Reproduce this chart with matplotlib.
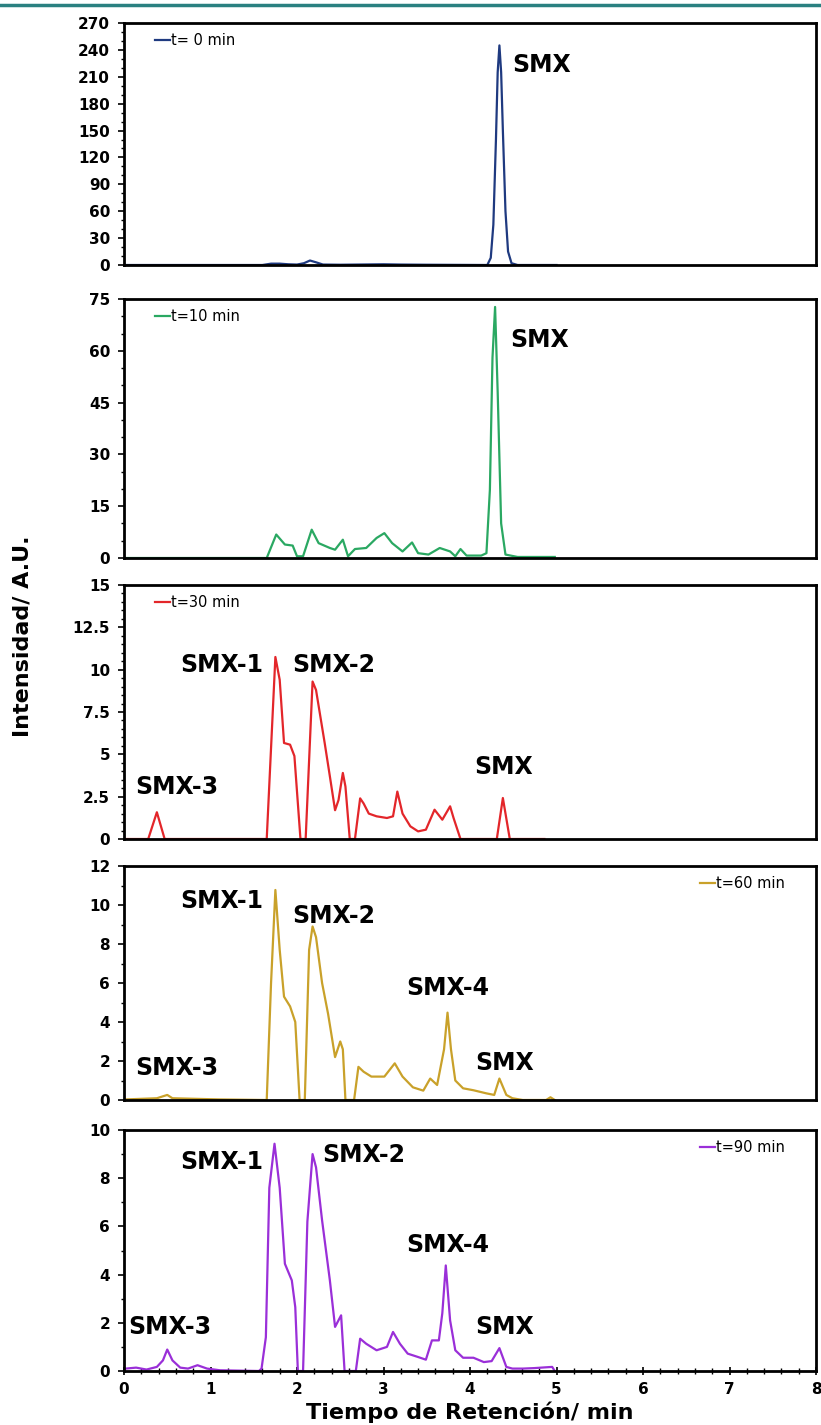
import matplotlib
matplotlib.use("Agg")
import matplotlib.pyplot as plt
from matplotlib.lines import Line2D
from matplotlib.ticker import MultipleLocator, FuncFormatter

t0_x = [0, 1.6, 1.7, 1.8, 1.9, 2.0, 2.08, 2.15, 2.22, 2.3, 2.5, 3.0, 3.2, 3.5, 4.2, 4.24, 4.27,
        4.30, 4.32, 4.34, 4.36, 4.38, 4.41, 4.44, 4.48, 4.55, 5.0]
t0_y = [0, 0, 1.5, 1.5, 0.8, 0.5, 2, 5, 3, 0.5, 0.3, 0.8, 0.5, 0.3, 0, 8, 45,
        140, 215, 245, 215, 150, 60, 15, 2, 0, 0]

t10_x = [0, 1.65, 1.76, 1.86, 1.95, 2.0, 2.07, 2.17, 2.25, 2.38, 2.44, 2.53, 2.59, 2.67, 2.8,
         2.92, 3.01, 3.1, 3.22, 3.33, 3.4, 3.52, 3.65, 3.77, 3.83, 3.89, 3.96, 4.13, 4.19,
         4.23, 4.26, 4.29, 4.32, 4.36, 4.41, 4.55, 4.98]
t10_y = [0, 0, 6.8, 3.9, 3.6, 0.5, 0.5, 8.2, 4.3, 2.9, 2.4, 5.3, 0.5, 2.6, 2.9,
         5.8, 7.2, 4.3, 1.9, 4.5, 1.4, 1.0, 2.9, 1.9, 0.5, 2.6, 0.7, 0.7, 1.4,
         19.8, 58, 72.7, 48, 10, 1.0, 0.3, 0.3]

t30_x = [0, 0.28, 0.38, 0.47, 1.65, 1.75, 1.80, 1.85, 1.92, 1.97, 2.04, 2.10, 2.18, 2.22,
         2.32, 2.38, 2.44, 2.48, 2.53, 2.56, 2.61, 2.67, 2.73, 2.77, 2.83, 2.92, 3.04, 3.11,
         3.16, 3.22, 3.31, 3.40, 3.49, 3.59, 3.68, 3.77, 3.81, 3.89, 4.31, 4.38, 4.46, 4.86]
t30_y = [0, 0, 1.58, 0, 0, 10.75, 9.4, 5.67, 5.57, 4.9, 0, 0, 9.3, 8.8,
         5.67, 3.7, 1.7, 2.3, 3.9, 3.1, 0, 0, 2.4, 2.1, 1.5, 1.34, 1.24, 1.34,
         2.8, 1.5, 0.75, 0.45, 0.55, 1.73, 1.14, 1.93, 1.24, 0, 0, 2.42, 0, 0]

t60_x = [0.02, 0.38, 0.5, 0.56, 1.1, 1.62, 1.65, 1.70, 1.75, 1.80, 1.85, 1.92, 1.98, 2.03,
         2.09, 2.14, 2.18, 2.22, 2.29, 2.36, 2.44, 2.50, 2.53, 2.56, 2.66, 2.71, 2.77, 2.86,
         3.01, 3.13, 3.22, 3.34, 3.46, 3.54, 3.62, 3.70, 3.74, 3.78, 3.83, 3.92, 4.04, 4.19,
         4.28, 4.34, 4.42, 4.49, 4.61, 4.88, 4.93, 4.98]
t60_y = [0.03, 0.09, 0.26, 0.09, 0.03, 0, 0, 6.0, 10.77, 7.7, 5.3, 4.8, 4.0, 0,
         0, 7.7, 8.9, 8.35, 6.0, 4.4, 2.2, 3.0, 2.6, 0, 0, 1.7, 1.45, 1.2,
         1.2, 1.88, 1.2, 0.65, 0.48, 1.1, 0.77, 2.6, 4.48, 2.6, 1.0, 0.6, 0.5, 0.34,
         0.26, 1.1, 0.26, 0.09, 0, 0, 0.14, 0]

t90_x = [0.02, 0.14, 0.26, 0.38, 0.45, 0.50, 0.56, 0.65, 0.74, 0.85, 0.96, 1.11, 1.56, 1.59,
         1.64, 1.68, 1.74, 1.80, 1.86, 1.94, 1.98, 2.01, 2.07, 2.12, 2.18, 2.22, 2.29, 2.38,
         2.44, 2.51, 2.55, 2.68, 2.73, 2.80, 2.92, 3.04, 3.11, 3.19, 3.28, 3.40, 3.49, 3.56,
         3.64, 3.68, 3.72, 3.77, 3.83, 3.92, 4.04, 4.16, 4.25, 4.34, 4.42, 4.49, 4.61, 4.74,
         4.95, 4.98]
t90_y = [0.1, 0.14, 0.06, 0.17, 0.44, 0.89, 0.44, 0.14, 0.1, 0.24, 0.1, 0.03, 0, 0.1,
         1.4, 7.6, 9.43, 7.6, 4.45, 3.76, 2.65, 0, 0, 6.2, 9.0, 8.45, 6.25, 3.76,
         1.83, 2.31, 0, 0, 1.34, 1.13, 0.86, 1.0, 1.62, 1.13, 0.72, 0.58, 0.47, 1.27,
         1.27, 2.4, 4.38, 2.1, 0.86, 0.55, 0.55, 0.37, 0.41, 0.95, 0.17, 0.1, 0.1, 0.12,
         0.17, 0]

series = [(t0_x, t0_y), (t10_x, t10_y), (t30_x, t30_y), (t60_x, t60_y), (t90_x, t90_y)]
etiquetas = ["t= 0 min", "t=10 min", "t=30 min", "t=60 min", "t=90 min"]
colores = ["#1f3a80", "#2aa862", "#e3262a", "#c9a12a", "#9a2fd8"]
ymax = [270, 75, 15, 12, 10]
ypaso = [30, 15, 2.5, 2, 2]
ymenor = [10, 5, 0.5, 1, 1]

# anotaciones de picos: (texto, x, y)
picos = [
    [("SMX", 4.49, 223)],
    [("SMX", 4.47, 63)],
    [("SMX-1", 0.65, 10.3), ("SMX-2", 1.94, 10.3), ("SMX-3", 0.13, 3.1), ("SMX", 4.05, 4.25)],
    [("SMX-1", 0.65, 10.2), ("SMX-2", 1.94, 9.45), ("SMX-4", 3.26, 5.75), ("SMX-3", 0.13, 1.65),
     ("SMX", 4.06, 1.9)],
    [("SMX-1", 0.65, 8.67), ("SMX-2", 2.29, 8.96), ("SMX-4", 3.26, 5.23), ("SMX-3", 0.05, 1.83),
     ("SMX", 4.06, 1.83)],
]

# posiciones de los paneles en pixeles (arriba, abajo)
paneles = [(23, 265), (299, 558), (585, 839), (866, 1100), (1130, 1371)]
W, H = 821, 1425

fig = plt.figure(figsize=(W / 100, H / 100), dpi=100)
fig.add_artist(Line2D([0, 1], [1 - 5 / H, 1 - 5 / H], color="#2a8080", lw=2.5))

fmt = FuncFormatter(lambda v, p: f"{v:g}")

for i in range(5):
    top, bot = paneles[i]
    ax = fig.add_axes([124 / W, 1 - bot / H, (816 - 124) / W, (bot - top) / H])
    x, y = series[i]
    ax.plot(x, y, color=colores[i], lw=1.6, label=etiquetas[i])
    ax.set_xlim(0, 8)
    ax.set_ylim(0, ymax[i])
    ax.yaxis.set_major_locator(MultipleLocator(ypaso[i]))
    ax.yaxis.set_minor_locator(MultipleLocator(ymenor[i]))
    ax.yaxis.set_major_formatter(fmt)
    ax.xaxis.set_major_locator(MultipleLocator(1))
    ax.xaxis.set_minor_locator(MultipleLocator(0.2))
    for s in ax.spines.values():
        s.set_linewidth(2)
    ax.tick_params(axis="y", which="major", direction="out", length=4, width=1.2,
                   labelsize=11, pad=6)
    ax.tick_params(axis="y", which="minor", direction="out", length=2.5, width=1)
    for lab in ax.get_yticklabels():
        lab.set_fontweight("bold")
    if i < 4:
        ax.tick_params(axis="x", which="both", bottom=False, labelbottom=False)
    else:
        ax.tick_params(axis="x", which="major", direction="inout", length=6, width=1.2,
                       labelsize=11, pad=5)
        ax.tick_params(axis="x", which="minor", direction="inout", length=4, width=1)
        for lab in ax.get_xticklabels():
            lab.set_fontweight("bold")
        ax.set_xlabel("Tiempo de Retención/ min", fontsize=16, fontweight="bold", labelpad=3)

    for texto, px, py in picos[i]:
        ax.text(px, py, texto, fontsize=17, fontweight="bold", ha="left", va="center")

    if i < 3:
        ax.legend(loc="upper left", bbox_to_anchor=(0.03, 1.0), frameon=False, fontsize=10.5,
                  handlelength=1.0, handletextpad=0.1, borderaxespad=0.3)
    else:
        ax.legend(loc="upper right", bbox_to_anchor=(0.97, 1.0), frameon=False, fontsize=10.5,
                  handlelength=1.0, handletextpad=0.1, borderaxespad=0.3)

fig.text(22 / W, 1 - 636 / H, "Intensidad/ A.U.", rotation=90, fontsize=16,
         fontweight="bold", ha="center", va="center")

fig.savefig("out.png", dpi=100)
